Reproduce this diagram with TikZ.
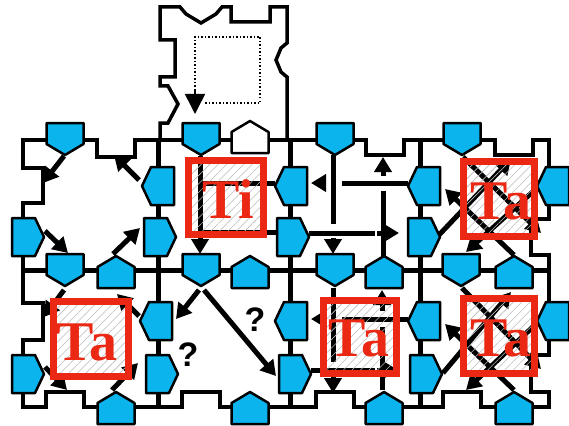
\documentclass[tikz,border=0pt]{standalone}
\usepackage{fontspec}
\setmainfont{Liberation Serif}
\newfontfamily\qfont{Liberation Sans}
\usetikzlibrary{arrows.meta,patterns.meta}
\definecolor{pblue}{RGB}{12,180,238}
\definecolor{tred}{RGB}{235,40,20}
\newcommand\pentD[3][pblue]{\filldraw[pent,fill=#1] ({#2-18.5},{#3-16}) -- ({#2+18.5},{#3-16}) -- ({#2+18.5},{#3+5}) -- (#2,{#3+16}) -- ({#2-18.5},{#3+5}) -- cycle;}
\newcommand\pentU[3][pblue]{\filldraw[pent,fill=#1] ({#2-18.5},{#3+16}) -- ({#2+18.5},{#3+16}) -- ({#2+18.5},{#3-5}) -- (#2,{#3-16}) -- ({#2-18.5},{#3-5}) -- cycle;}
\newcommand\pentL[2]{\filldraw[pent] ({#1+16},{#2-19}) -- ({#1+16},{#2+19}) -- ({#1-7},{#2+19}) -- ({#1-16},#2) -- ({#1-7},{#2-19}) -- cycle;}
\newcommand\pentR[2]{\filldraw[pent] ({#1-16},{#2-19}) -- ({#1-16},{#2+19}) -- ({#1+7},{#2+19}) -- ({#1+16},#2) -- ({#1+7},{#2-19}) -- cycle;}
\begin{document}
\begin{tikzpicture}[x=1pt,y=-1pt,
  edge/.style={line width=3.5pt, line join=miter},
  inner/.style={line width=5pt},
  pent/.style={fill=pblue, draw=black, line width=2.5pt, line join=round},
  flow/.style={line width=5pt, -{Triangle[length=15pt,width=17pt]}},
  bar/.style={line width=5pt},
  redbox/.style={draw=tred, line width=7pt, pattern={Lines[angle=45,distance=6pt,line width=0.6pt]}, pattern color=gray!55},
  lab/.style={text=tred, font=\fontsize{56}{56}\selectfont\bfseries, inner sep=0pt},
  qm/.style={font=\qfont\fontsize{34}{34}\selectfont\bfseries, inner sep=0pt}]
\useasboundingbox (0,0) rectangle (569,425);
% internal grid lines
\draw[inner] (23,270) -- (549,270);
\draw[inner] (158,140) -- (158,407);
\draw[inner] (290,140) -- (290,407);
\draw[inner] (420,140) -- (420,407);
% outer outline
\draw[edge] (23,140) -- (97,140) -- (97,157) -- (135,157) -- (135,140) -- (366,140) -- (366,155) -- (404,155) -- (404,140) -- (495,140) -- (495,155) -- (533,155) -- (533,140) -- (549,140) -- (549,219) -- (531,219) -- (531,255) -- (549,255) -- (549,355) -- (531,355) -- (531,392) -- (549,392) -- (549,407) -- (481,407) -- (481,392) -- (443,392) -- (443,407) -- (354,407) -- (354,392) -- (316,392) -- (316,407) -- (220,407) -- (220,392) -- (182,392) -- (182,407) -- (84,407) -- (84,392) -- (46,392) -- (46,407) -- (23,407) -- (23,340) -- (43,340) -- (43,303) -- (23,303) -- (23,203) -- (43,203) -- (43,168) -- (23,168) -- cycle;
% top tile
\draw[edge] (160,140) -- (160,123) -- (168,123) -- (178,104) -- (168,86) -- (160,86) -- (160,77) -- (175,77) -- (175,40) -- (160,40) -- (160,7) -- (180,7) -- (186,14) -- (201,23) -- (216,14) -- (222,7) -- (231,7) -- (231,22) -- (270,22) -- (270,7) -- (287,7) -- (287,43) -- (281,48) -- (276,60) -- (281,72) -- (287,77) -- (287,140);
\draw[line width=1.5pt, dotted] (205,103) -- (260,103) -- (260,37) -- (195,37) -- (195,92);
\draw[line width=1.5pt, -{Triangle[length=20pt,width=20pt]}] (195,90) -- (195,114);
% tile (1,1)
\draw[flow] (64,156) -- (43,183);
\draw[flow] (139,180) -- (114,155);
\draw[flow] (45,231) -- (68,253);
\draw[flow] (113,254) -- (140,228);
% tile (1,2)
\draw[flow] (64,290) -- (44,317);
\draw[flow] (139,316) -- (117,294);
\draw[flow] (45,367) -- (67,390);
\draw[flow] (112,390) -- (138,363);
% tile (2,1)
\draw[bar] (275,183) -- (200,183);
\draw[bar] (200,232) -- (280,232);
\draw[flow] (200,156) -- (200,254);
% tile (2,2)
\draw[flow] (199,290) -- (176,319);
\draw[flow] (204,290) -- (276,376);
\node[qm] (q1) at (255,320) {?};
\node[qm] (q2) at (188,355) {?};
% tile (3,1)
\draw[bar] (333,155) -- (333,224);
\draw[flow] (333,238) -- (333,254);
\draw[bar] (408,183) -- (342,183);
\draw[flow] (326,183) -- (311,183);
\draw[bar] (383,257) -- (383,191);
\draw[flow] (383,176) -- (383,157);
\draw[bar] (309,233) -- (375,233);
\draw[flow] (377,233) -- (399,233);
% tile (3,2)
\draw[bar] (333,288) -- (333,362);
\draw[flow] (333,376) -- (333,393);
\draw[bar] (408,319) -- (342,319);
\draw[flow] (326,319) -- (311,319);
\draw[bar] (382,390) -- (382,327);
\draw[flow] (382,311) -- (382,290);
\draw[bar] (311,370) -- (375,370);
\draw[flow] (377,370) -- (398,370);
% tile (4,1)
\draw[flow] (463,157) -- (541,233);
\draw[flow] (537,188) -- (466,252);
\draw[flow] (514,255) -- (445,189);
\draw[flow] (438,236) -- (511,159);
% tile (4,2)
\draw[flow] (462,288) -- (541,369);
\draw[flow] (537,323) -- (466,390);
\draw[flow] (514,390) -- (445,324);
\draw[flow] (443,373) -- (511,292);
% pentagons
\pentD{65}{139} \pentD{201}{139} \pentD{335}{139} \pentD{462}{139}
\pentU[white]{250}{137}
\pentD{65}{270} \pentU{116}{272} \pentD{201}{270} \pentU{250}{272}
\pentD{335}{270} \pentU{384}{272} \pentD{461}{270} \pentU{514}{272}
\pentU{116}{408} \pentU{250}{408} \pentU{384}{408} \pentU{514}{408}
\pentL{158}{186} \pentR{160}{237} \pentL{156}{321} \pentR{162}{374}
\pentR{28}{237} \pentR{28}{374}
\pentL{291}{186} \pentR{293}{237} \pentL{291}{321} \pentR{295}{374}
\pentL{424}{186} \pentR{424}{237} \pentL{424}{321} \pentR{426}{374}
\pentL{553}{186} \pentL{553}{321}
% red boxes
\draw[redbox] (188.5,160.5) rectangle (263.5,234.5);
\draw[redbox] (53.5,301.5) rectangle (128.5,376.5);
\draw[redbox] (323.5,300.5) rectangle (396.5,373.5);
\draw[redbox] (463.5,161.5) rectangle (534.5,236.5);
\draw[redbox] (463.5,298.5) rectangle (534.5,373.5);
\node[lab] (ti) at (228,199) {Ti};
\node[lab] (ta1) at (87,342) {Ta};
\node[lab] (ta2) at (359,338) {Ta};
\node[lab] (ta3) at (501,201) {Ta};
\node[lab] (ta4) at (501,338) {Ta};
\end{tikzpicture}
\end{document}
